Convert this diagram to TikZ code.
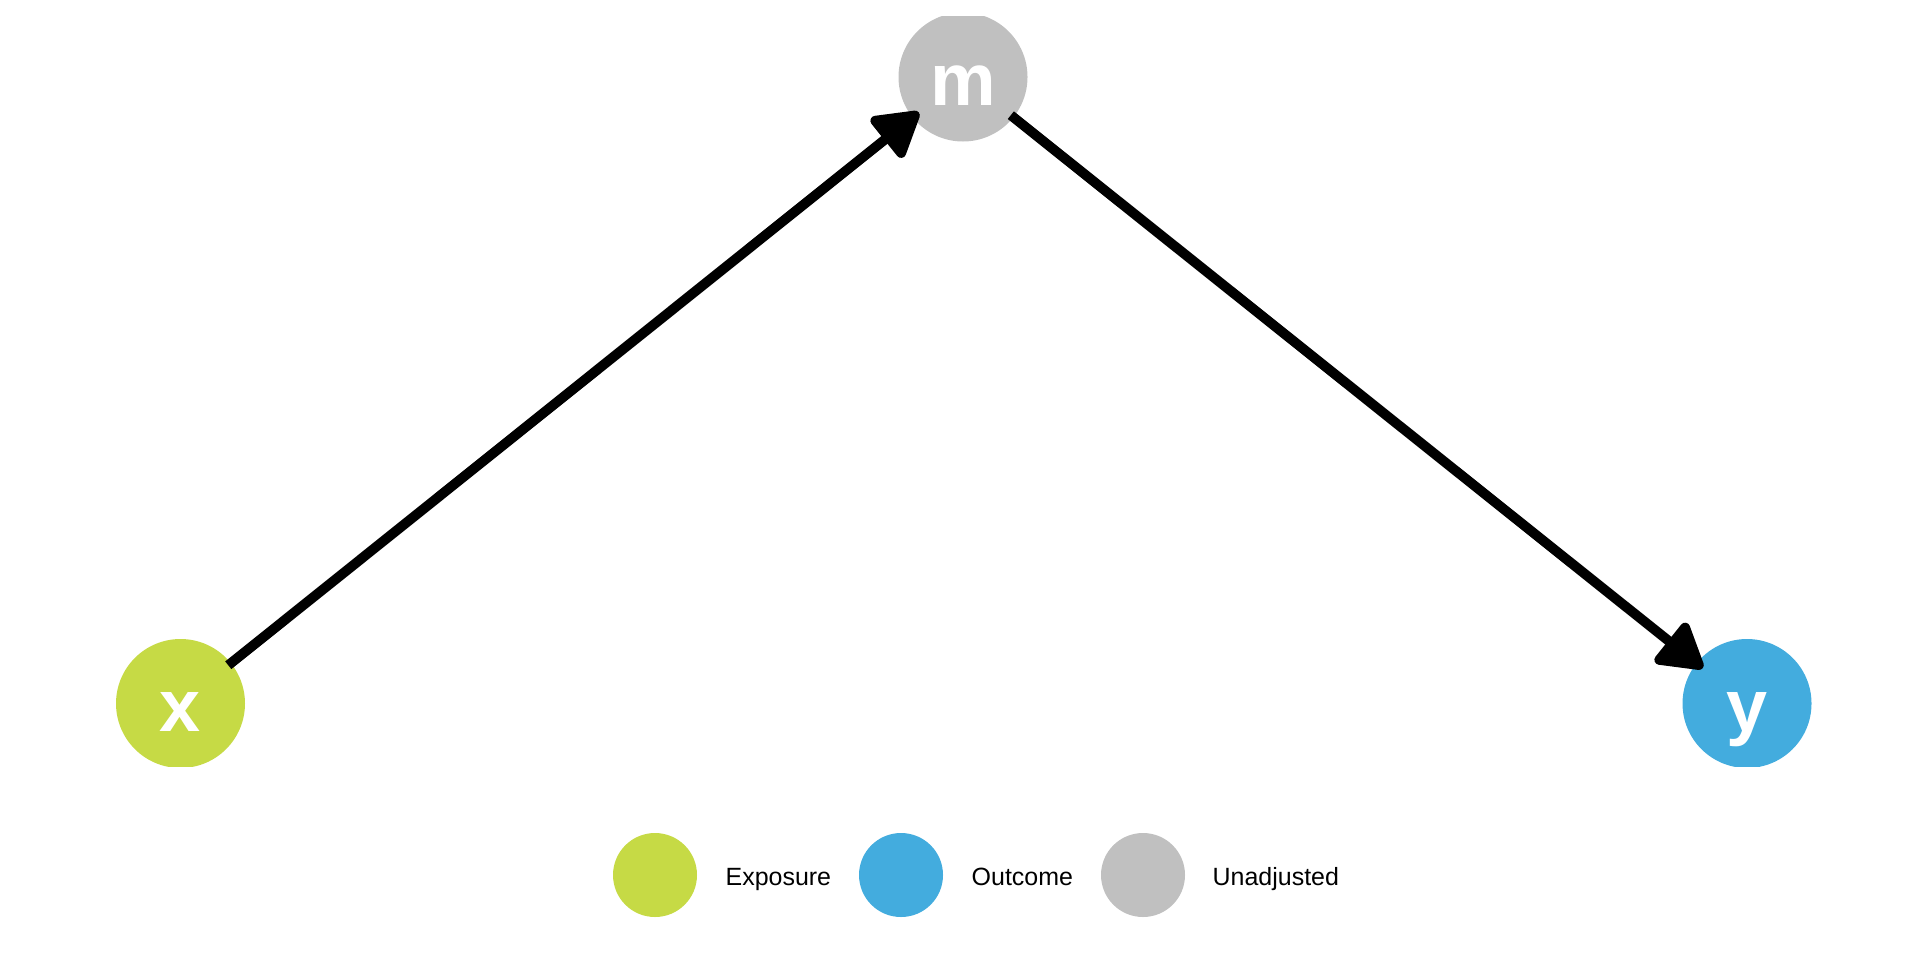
\documentclass[tikz,border=0pt]{standalone}
\usepackage{fontspec}
\setmainfont{Liberation Sans}
\usetikzlibrary{arrows.meta}
\definecolor{exposure}{RGB}{198,218,69}
\definecolor{outcome}{RGB}{67,172,222}
\definecolor{unadjusted}{RGB}{192,192,192}
\begin{document}
\begin{tikzpicture}[
    dagnode/.style={circle, minimum size=1.29cm, inner sep=0pt, text=white,
      font=\fontsize{21}{21}\selectfont\bfseries, text height=0.56cm, text depth=0cm},
    keydot/.style={circle, minimum size=0.84cm, inner sep=0pt},
    keytext/.style={anchor=base west, inner sep=0pt, font=\fontsize{7.1}{8}\selectfont},
    dagedge/.style={line width=2.8pt, -{Triangle[length=0.49cm, width=0.56cm, round]},
      shorten <=-0.04cm, shorten >=-0.085cm}
  ]
  \useasboundingbox (0,0) rectangle (19.2,9.6);
  \begin{scope}
    \clip (0,1.94) rectangle (19.2,9.44);
    \node[dagnode, fill=exposure] (x) at (1.805,2.565) {x};
    \node[dagnode, fill=unadjusted] (m) at (9.63,8.83) {m};
    \node[dagnode, fill=outcome] (y) at (17.47,2.565) {y};
    \draw[dagedge] (x) -- (m);
    \draw[dagedge] (m) -- (y);
  \end{scope}
  % legend
  \node[keydot, fill=exposure] (kx) at (6.55,0.85) {};
  \node[keydot, fill=outcome] (ky) at (9.01,0.85) {};
  \node[keydot, fill=unadjusted] (km) at (11.43,0.85) {};
  \node[keytext] (tx) at (7.25,0.75) {Exposure};
  \node[keytext] (ty) at (9.71,0.75) {Outcome};
  \node[keytext] (tm) at (12.12,0.75) {Unadjusted};
\end{tikzpicture}
\end{document}
